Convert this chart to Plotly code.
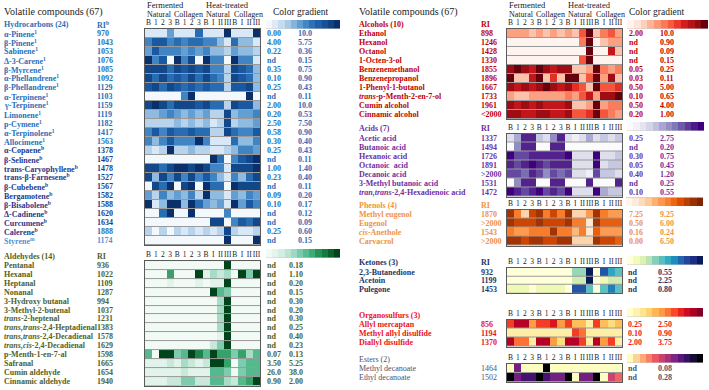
import plotly.graph_objects as go

# ---------------- DATA ----------------
col_labels = ["B", "1", "2", "3", "B", "1", "2", "3", "B", "I", "II", "III", "B", "I", "II", "III"]

hydro_names = ["α-Pinene<sup>1</sup>", "β-Pinene<sup>1</sup>", "Sabinene<sup>1</sup>", "Δ-3-Carene<sup>1</sup>",
               "β-Myrcene<sup>1</sup>", "α-Phellandrene<sup>1</sup>", "β-Phellandrene<sup>1</sup>",
               "α-Terpinene<sup>1</sup>", "γ-Terpinene<sup>1</sup>", "Limonene<sup>1</sup>", "p-Cymene<sup>1</sup>",
               "α-Terpinolene<sup>1</sup>", "Allocimene<sup>1</sup>", "α-Copaene<sup>b</sup>", "β-Selinene<sup>b</sup>",
               "trans-Caryophyllene<sup>b</sup>", "trans-β-Farnesene<sup>b</sup>", "β-Cubebene<sup>b</sup>",
               "Bergamotene<sup>b</sup>", "β-Bisabolene<sup>b</sup>", "Δ-Cadinene<sup>b</sup>", "Curcumene<sup>b</sup>",
               "Calerene<sup>b</sup>", "Styrene<sup>m</sup>"]
hydro_ri = ["970", "1043", "1053", "1076", "1085", "1092", "1129", "1103", "1159", "1119", "1182", "1417",
            "1563", "1378", "1467", "1478", "1527", "1567", "1582", "1588", "1620", "1634", "1888", "1174"]
hydro_lo = ["0.00", "4.00", "0.22", "nd", "0.35", "0.10", "0.25", "nd", "2.00", "0.20", "2.50", "0.58",
            "0.30", "0.25", "nd", "1.00", "0.23", "nd", "0.09", "0.10", "nd", "nd", "0.25", "nd"]
hydro_hi = ["10.0", "5.75", "0.36", "0.15", "0.75", "0.90", "0.43", "0.11", "10.0", "0.53", "7.50", "0.90",
            "0.40", "0.43", "0.11", "1.40", "0.40", "0.11", "0.20", "0.17", "0.12", "0.09", "0.60", "0.15"]
hydro_z = [
    [1, 1, 1, 4, 1, 1, 1, 6, 1, 1, 1, 9, 1, 1, 1, 9],
    [5, 7, 7, 5, 6, 5, 6, 6, 5, 5, 3, 1, 6, 3, 3, 1],
    [4, 7, 5, 5, 5, 4, 5, 4, 5, 3, 3, 2, 4, 3, 3, 2],
    [9, 5, 7, 0, 9, 5, 8, 0, 9, 5, 5, 0, 9, 5, 5, 1],
    [8, 8, 8, 6, 8, 7, 8, 7, 8, 5, 5, 2, 8, 7, 6, 3],
    [8, 6, 8, 6, 7, 6, 8, 6, 8, 6, 5, 2, 8, 7, 6, 3],
    [7, 8, 6, 8, 7, 6, 7, 6, 7, 6, 6, 2, 7, 7, 8, 3],
    [0, 0, 0, 0, 0, 5, 9, 0, 0, 0, 0, 0, 0, 0, 9, 0],
    [8, 9, 8, 6, 8, 8, 8, 7, 8, 6, 6, 2, 8, 7, 7, 3],
    [3, 3, 4, 5, 4, 3, 4, 3, 4, 2, 2, 8, 3, 4, 4, 5],
    [2, 2, 2, 2, 3, 2, 3, 2, 3, 1, 2, 8, 2, 3, 3, 4],
    [5, 7, 5, 7, 6, 6, 7, 6, 6, 2, 2, 8, 6, 5, 5, 7],
    [5, 3, 5, 7, 5, 5, 5, 9, 5, 1, 1, 1, 6, 3, 3, 5],
    [2, 1, 2, 9, 2, 2, 3, 2, 2, 1, 1, 2, 3, 5, 5, 4],
    [0, 0, 0, 0, 0, 0, 0, 0, 0, 9, 6, 0, 5, 7, 8, 9],
    [8, 8, 6, 8, 9, 9, 8, 9, 8, 5, 5, 1, 8, 8, 8, 9],
    [8, 3, 8, 5, 8, 5, 8, 5, 7, 5, 3, 1, 5, 3, 6, 8],
    [0, 8, 6, 9, 0, 8, 9, 0, 9, 6, 6, 0, 9, 8, 8, 8],
    [4, 2, 5, 3, 4, 3, 5, 2, 9, 3, 3, 1, 4, 3, 5, 4],
    [9, 1, 3, 9, 9, 3, 9, 6, 4, 3, 4, 1, 9, 4, 7, 5],
    [0, 0, 6, 9, 0, 0, 9, 0, 0, 0, 0, 5, 0, 0, 0, 0],
    [0, 0, 0, 0, 0, 0, 0, 0, 0, 8, 8, 0, 5, 7, 6, 8],
    [2, 0, 2, 0, 2, 1, 2, 1, 2, 1, 2, 8, 2, 1, 1, 2],
    [0, 0, 0, 0, 0, 0, 0, 0, 0, 0, 0, 9, 0, 0, 0, 9],
]

ald_names = ["Pentanal", "Hexanal", "Heptanal", "Nonanal", "3-Hydroxy butanal", "3-Methyl-2-butenal",
             "<i>trans</i>-2-heptenal", "<i>trans,trans</i>-2,4-Heptadienal", "<i>trans,trans</i>-2,4-Decadienal",
             "<i>trans,cis</i>-2,4-Decadienal", "p-Menth-1-en-7-al", "Safranal", "Cumin aldehyde", "Cinnamic aldehyde"]
ald_ri = ["936", "1022", "1109", "1287", "994", "1037", "1231", "1383", "1578", "1629", "1598", "1665", "1654", "1940"]
ald_lo = ["nd"] * 10 + ["0.07", "3.50", "26.0", "0.90"]
ald_hi = ["0.18", "1.10", "0.20", "0.15", "0.30", "0.20", "0.30", "0.25", "0.40", "0.23", "0.13", "5.25", "38.0", "2.00"]
ald_z = [
    [0, 0, 0, 0, 0, 0, 0, 0, 0, 0, 0, 9, 0, 0, 0, 0],
    [0, 0, 0, 6, 0, 0, 0, 9, 1, 3, 2, 3, 0, 9, 4, 9],
    [0, 0, 0, 1, 0, 0, 0, 1, 0, 1, 1, 9, 0, 0, 0, 0],
    [0, 0, 0, 0, 0, 0, 0, 0, 0, 9, 5, 4, 0, 0, 0, 0],
    [0, 0, 0, 0, 0, 0, 0, 0, 0, 0, 3, 9, 0, 0, 0, 0],
    [0, 0, 0, 0, 0, 0, 0, 0, 0, 0, 3, 9, 0, 0, 0, 0],
    [0, 0, 0, 0, 0, 0, 0, 0, 0, 0, 3, 9, 0, 0, 0, 0],
    [0, 0, 0, 0, 0, 0, 0, 0, 0, 0, 3, 9, 0, 0, 0, 0],
    [0, 0, 0, 0, 0, 0, 0, 0, 0, 0, 1, 9, 0, 0, 0, 0],
    [0, 0, 0, 0, 0, 0, 0, 0, 0, 2, 4, 9, 0, 0, 0, 0],
    [5, 0, 9, 9, 4, 5, 9, 7, 5, 9, 6, 6, 4, 6, 3, 5],
    [1, 1, 1, 2, 1, 3, 2, 1, 2, 9, 9, 6, 0, 4, 5, 5],
    [1, 1, 1, 1, 1, 2, 1, 1, 1, 5, 5, 4, 0, 4, 5, 5],
    [1, 1, 1, 2, 2, 4, 4, 2, 2, 5, 5, 3, 2, 5, 6, 9],
]

alc_names = ["Ethanol", "Hexanol", "Octanol", "1-Octen-3-ol", "Benzenemethanol", "Benzenepropanol",
             "1-Phenyl-1-butanol", "<i>trans</i>-p-Menth-2-en-7-ol", "Cumin alcohol", "Cinnamic alcohol"]
alc_ri = ["898", "1246", "1428", "1330", "1855", "1896", "1667", "1733", "1961", "<2000"]
alc_lo = ["2.00", "nd", "nd", "nd", "0.05", "0.03", "0.50", "0.10", "0.50", "0.20"]
alc_hi = ["10.0", "0.90", "0.09", "0.15", "0.25", "0.11", "5.00", "0.65", "4.00", "1.00"]
alc_z = [
    [3, 3, 3, 2, 3, 2, 3, 2, 3, 2, 5, 9, 2, 4, 5, 3],
    [0, 0, 0, 0, 0, 0, 0, 0, 0, 0, 4, 9, 0, 2, 3, 3],
    [0, 0, 0, 0, 0, 0, 0, 0, 0, 0, 0, 9, 0, 0, 7, 2],
    [0, 0, 0, 0, 0, 0, 0, 0, 0, 0, 5, 9, 0, 0, 0, 0],
    [8, 9, 8, 7, 9, 8, 7, 8, 8, 2, 2, 3, 9, 4, 3, 4],
    [9, 2, 2, 7, 9, 2, 6, 2, 9, 9, 2, 5, 9, 3, 8, 2],
    [8, 7, 8, 7, 8, 9, 8, 7, 8, 6, 5, 2, 9, 5, 5, 6],
    [3, 2, 2, 3, 3, 3, 3, 3, 4, 3, 5, 7, 3, 8, 8, 9],
    [8, 7, 8, 7, 8, 7, 7, 7, 8, 2, 2, 3, 9, 3, 4, 4],
    [8, 8, 7, 7, 8, 8, 7, 7, 8, 5, 5, 6, 9, 5, 4, 3],
]

acid_names = ["Acetic acid", "Butanoic acid", "Hexanoic acid", "Octanoic  acid", "Decanoic acid",
              "3-Methyl butanoic acid", "<i>tran,trans</i>-2,4-Hexadienoic acid"]
acid_ri = ["1337", "1494", "1726", "1891", ">2000", "1531", "1472"]
acid_lo = ["0.25", "nd", "0.30", "0.05", "0.40", "nd", "0.10"]
acid_hi = ["2.75", "0.20", "0.75", "0.45", "1.20", "0.25", "0.55"]
acid_z = [
    [2, 4, 8, 8, 3, 2, 5, 8, 2, 1, 2, 4, 2, 3, 2, 3],
    [0, 5, 8, 8, 0, 0, 8, 8, 0, 0, 0, 0, 0, 0, 0, 0],
    [9, 7, 7, 8, 8, 8, 8, 8, 9, 2, 2, 2, 9, 2, 2, 3],
    [8, 7, 8, 9, 8, 7, 8, 8, 8, 2, 2, 2, 9, 2, 3, 3],
    [7, 7, 6, 8, 7, 5, 7, 6, 7, 2, 2, 1, 7, 3, 3, 2],
    [0, 5, 8, 8, 0, 0, 8, 8, 0, 0, 0, 8, 0, 0, 0, 8],
    [9, 8, 7, 8, 9, 7, 8, 7, 9, 2, 2, 2, 9, 4, 3, 3],
]

phen_names = ["Methyl eugenol", "Eugenol", "<i>cis</i>-Anethole", "Carvacrol"]
phen_ri = ["1870", ">2000", "1543", ">2000"]
phen_lo = ["7.25", "0.50", "0.16", "0.00"]
phen_hi = ["9.25", "6.00", "0.24", "6.50"]
phen_z = [
    [8, 5, 2, 7, 8, 5, 7, 5, 8, 2, 2, 4, 8, 5, 4, 4],
    [8, 7, 7, 7, 8, 7, 7, 7, 8, 5, 5, 1, 8, 6, 6, 6],
    [5, 4, 4, 5, 5, 5, 8, 5, 5, 3, 5, 1, 6, 4, 4, 4],
    [8, 8, 7, 8, 8, 7, 7, 8, 8, 2, 2, 2, 8, 7, 7, 6],
]

ket_names = ["2,3-Butanedione", "Acetoin", "Pulegone"]
ket_ri = ["932", "1199", "1453"]
ket_lo = ["nd", "nd", "nd"]
ket_hi = ["0.55", "2.25", "0.80"]
ket_z = [
    [0, 0, 0, 0, 0, 0, 0, 0, 0, 3, 3, 9, 0, 7, 5, 4],
    [0, 0, 0, 0, 0, 0, 0, 0, 0, 2, 2, 9, 0, 1, 2, 2],
    [1, 1, 1, 0, 1, 1, 1, 1, 0, 7, 7, 4, 0, 4, 6, 4],
]

sulf_names = ["Allyl mercaptan", "Methyl allyl disulfide", "Diallyl disulfide"]
sulf_ri = ["856", "1194", "1370"]
sulf_lo = ["0.25", "0.10", "2.00"]
sulf_hi = ["2.50", "0.90", "3.75"]
sulf_z = [
    [6, 8, 8, 4, 6, 6, 7, 4, 6, 3, 3, 1, 6, 3, 2, 3],
    [1, 1, 1, 1, 1, 1, 1, 1, 1, 6, 5, 1, 1, 1, 1, 1],
    [8, 5, 5, 1, 8, 8, 4, 2, 8, 8, 6, 1, 8, 4, 6, 1],
]

est_names = ["Methyl decanoate", "Ethyl decanoate"]
est_ri = ["1464", "1502"]
est_lo = ["nd", "nd"]
est_hi = ["0.08", "0.28"]
est_z = [
    [0, 6, 0, 0, 0, 9, 0, 0, 0, 0, 0, 0, 0, 0, 0, 0],
    [9, 6, 7, 7, 9, 7, 6, 6, 9, 0, 6, 6, 9, 0, 4, 3],
]

# ---------------- STYLE ----------------
W, H = 709, 390
SERIF = "Liberation Serif"

BLUES = ["#f3f8fd", "#d6e6f5", "#b0cfe9", "#7fb1dc", "#4f91cb", "#2e74b8", "#1c5ca6", "#134a8e", "#0b2f6b"]
GREENS = ["#f2faf6", "#dff2ea", "#c2e6d6", "#99d8c0", "#66c2a0", "#3fae78", "#238b4f", "#0a6d33", "#00441b"]
REDS = ["#fff3ef", "#fee0d2", "#fcbba1", "#fc9272", "#fb6a4a", "#ef3b2c", "#cb181d", "#a50f15", "#67000d"]
PURPLES = ["#fbfafd", "#efedf5", "#dadaeb", "#bcbddc", "#9e9ac8", "#807dba", "#6a51a3", "#54278f", "#3f007d"]
ORANGES = ["#fff5eb", "#fee6ce", "#fdd0a2", "#fdae6b", "#fd8d3c", "#f16913", "#d94801", "#a63603", "#7f2704"]
YLGNBU = ["#ffffd9", "#edf8b1", "#c7e9b4", "#7fcdbb", "#41b6c4", "#1d91c0", "#225ea8", "#253494", "#081d58"]
YLORRD = ["#ffffcc", "#ffeda0", "#fed976", "#feb24c", "#fd8d3c", "#fc4e2a", "#e31a1c", "#bd0026", "#800026"]
MAGMA_R = ["#fcfdbf", "#fec287", "#fc8961", "#e75263", "#b73779", "#832681", "#51127c", "#1d1147", "#000004"]


def cscale(colors):
    n = len(colors) - 1
    return [[i / n, c] for i, c in enumerate(colors)]


fig = go.Figure()
layout = {}
annotations = []
axis_count = [0]


def txt(x, y, s, color, size=8, bold=True, anchor="left"):
    if bold:
        s = "<b>" + s + "</b>"
    annotations.append(dict(x=x / W, y=1 - y / H, xref="paper", yref="paper", text=s, showarrow=False,
                            xanchor=anchor, yanchor="middle", borderpad=0,
                            font=dict(family=SERIF, size=size, color=color)))


def add_heat(z, colors, x0, x1, y0, y1, labels=False, grid=True, zmax=9):
    axis_count[0] += 1
    i = axis_count[0]
    sfx = "" if i == 1 else str(i)
    fig.add_trace(go.Heatmap(z=z, colorscale=cscale(colors), zmin=0, zmax=zmax, showscale=False,
                             xaxis="x" + sfx, yaxis="y" + sfx, ygap=1 if grid else 0, hoverinfo="skip"))
    ncol = len(z[0])
    xa = dict(domain=[x0 / W, x1 / W], range=[-0.5, ncol - 0.5], anchor="y" + sfx,
              showgrid=False, zeroline=False, showline=grid, mirror=True,
              linecolor="#5a5a5a", linewidth=1, ticks="", fixedrange=True)
    if labels:
        xa.update(side="top", tickmode="array", tickvals=list(range(ncol)), ticktext=col_labels,
                  showticklabels=True, tickangle=0,
                  tickfont=dict(family=SERIF, size=7.5, color="#222"))
    else:
        xa.update(showticklabels=False)
    layout["xaxis" + sfx] = xa
    layout["yaxis" + sfx] = dict(domain=[1 - y1 / H, 1 - y0 / H], range=[len(z) - 0.5, -0.5], anchor="x" + sfx,
                                 showgrid=False, zeroline=False, showline=grid, mirror=True,
                                 linecolor="#5a5a5a", linewidth=1, showticklabels=False, ticks="",
                                 fixedrange=True)


def group(names, ri, lo, hi, z, colors, color, header, ri_header, geo, name_colors=None, ri_colors=None,
          bold=True):
    (nx, rx, hx0, hx1, cx0, cx1, v1, v2, hy, r0, dy, cy0, cy1) = geo
    n = len(names)
    top = r0 - dy / 2
    add_heat(z, colors, hx0, hx1, top, top + n * dy, labels=True, grid=True)
    add_heat([list(range(12))], colors, cx0, cx1, cy0, cy1, labels=False, grid=False, zmax=11)
    txt(nx, hy, header, color, bold=bold)
    if ri_header:
        txt(rx, hy, ri_header, color, bold=bold)
    for i in range(n):
        y = r0 + i * dy
        nc = name_colors[i] if name_colors else color
        rc = ri_colors[i] if ri_colors else color
        txt(nx, y, names[i], nc, bold=bold)
        txt(rx, y, ri[i], rc, bold=bold)
        txt(v1, y, lo[i], color)
        txt(v2, y, hi[i], color)


# ---------------- HEADERS ----------------
for (x0, title) in [(3, "Volatile compounds (67)"), (358, "Volatile compounds (67)")]:
    txt(x0, 12, title, "#222", size=10, bold=False)

for base in (145, 507):
    txt(base + 1, 5, "Fermented", "#222", size=8.5, bold=False)
    txt(base + 60, 5, "Heat-treated", "#222", size=8.5, bold=False)
    txt(base + 1, 14.5, "Natural", "#222", size=8, bold=False)
    txt(base + 28, 14.5, "Collagen", "#222", size=8, bold=False)
    txt(base + 60, 14.5, "Natural", "#222", size=8, bold=False)
    txt(base + 88, 14.5, "Collagen", "#222", size=8, bold=False)
txt(272, 12, "Color gradient", "#222", size=9.5, bold=False)
txt(628, 12, "Color gradient", "#222", size=9.5, bold=False)

# ---------------- LEFT PANEL ----------------
HB = "#2a70b8"
HN = "#1f3a8a"
HL = "#5a8fd0"
hydro_ncol = [HB] * 13 + [HN] * 10 + [HL]
hydro_rcol = [HB] * 13 + [HN] * 9 + [HB, HL]
group(hydro_names, hydro_ri, hydro_lo, hydro_hi, hydro_z, BLUES, HB, "Hydrocarbons (24)", "RI<sup>b</sup>",
      (3, 96, 145, 260, 266, 340, 266, 297, 25, 33.5, 9.0, 20, 28.5),
      name_colors=hydro_ncol, ri_colors=hydro_rcol)
group(ald_names, ald_ri, ald_lo, ald_hi, ald_z, GREENS, "#4f6228", "Aldehydes (14)", "RI",
      (3, 96, 145, 260, 266, 340, 266, 288, 256, 265.5, 8.9, 249, 257.5))

# ---------------- RIGHT PANEL ----------------
group(alc_names, alc_ri, alc_lo, alc_hi, alc_z, REDS, "#c00000", "Alcohols (10)", "RI",
      (358, 480, 507, 622, 627, 708, 628, 659, 25, 33.5, 9.0, 20, 28.5))
group(acid_names, acid_ri, acid_lo, acid_hi, acid_z, PURPLES, "#7030a0", "Acids (7)", "RI",
      (358, 480, 507, 622, 627, 704, 628, 659, 129, 138, 9.0, 122, 130.5))
group(phen_names, phen_ri, phen_lo, phen_hi, phen_z, ORANGES, "#ee9444", "Phenols (4)", "RI",
      (358, 480, 507, 622, 626, 703, 628, 659, 205, 214, 9.0, 197.5, 206))
group(ket_names, ket_ri, ket_lo, ket_hi, ket_z, YLGNBU, "#1f3464", "Ketones (3)", "RI",
      (358, 480, 507, 622, 627, 703, 627, 657, 262, 272, 8.5, 256, 264.5))
group(sulf_names, sulf_ri, sulf_lo, sulf_hi, sulf_z, YLORRD, "#e8141c", "Organosulfurs (3)", None,
      (358, 480, 507, 622, 627, 703, 627, 657, 315, 324, 9.0, 308, 316.5))
group(est_names, est_ri, est_lo, est_hi, est_z, MAGMA_R, "#4a5470", "Esters (2)", None,
      (358, 480, 507, 622, 627, 703, 627, 657, 359.5, 368.5, 9.0, 354, 362.5), bold=False)

fig.update_layout(width=W, height=H, margin=dict(l=0, r=0, t=0, b=0), paper_bgcolor="white",
                  plot_bgcolor="#9a9a9a", showlegend=False, annotations=annotations, **layout)
fig.write_html("out.html")
